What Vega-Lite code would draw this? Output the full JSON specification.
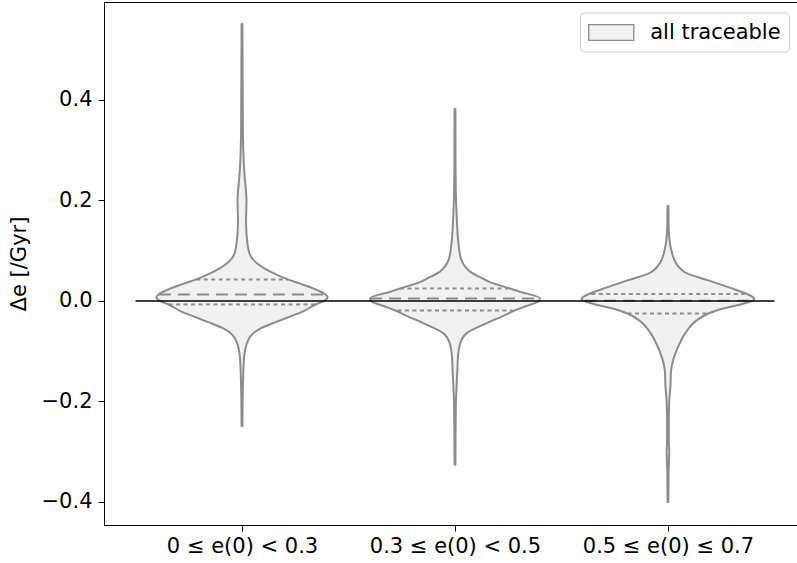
{
  "$schema": "https://vega.github.io/schema/vega-lite/v6.json",
  "autosize": {"type": "none"},
  "padding": {"left": 104, "top": 2, "right": 0, "bottom": 38},
  "width": 693,
  "height": 523,
  "config": {
    "font": "DejaVu Sans",
    "view": {"stroke": "#000000", "strokeWidth": 1},
    "axis": {"grid": false, "domainColor": "#000000", "tickColor": "#000000", "labelColor": "#000000", "titleColor": "#000000", "labelFont": "DejaVu Sans", "titleFont": "DejaVu Sans", "labelFontSize": 21, "titleFontSize": 21, "titleFontWeight": "normal", "tickSize": 6, "labelPadding": 6}
  },
  "datasets": {
    "violin": [
      {"g": 0, "y": -0.249, "w": 0.002}, {"g": 0, "y": -0.20, "w": 0.003}, {"g": 0, "y": -0.157, "w": 0.005}, {"g": 0, "y": -0.131, "w": 0.007}, {"g": 0, "y": -0.104, "w": 0.012}, {"g": 0, "y": -0.084, "w": 0.023}, {"g": 0, "y": -0.074, "w": 0.034}, {"g": 0, "y": -0.064, "w": 0.053}, {"g": 0, "y": -0.054, "w": 0.09}, {"g": 0, "y": -0.041, "w": 0.165}, {"g": 0, "y": -0.031, "w": 0.225}, {"g": 0, "y": -0.021, "w": 0.285}, {"g": 0, "y": -0.007, "w": 0.345}, {"g": 0, "y": 0.0, "w": 0.385}, {"g": 0, "y": 0.008, "w": 0.402}, {"g": 0, "y": 0.013, "w": 0.392}, {"g": 0, "y": 0.025, "w": 0.335}, {"g": 0, "y": 0.035, "w": 0.27}, {"g": 0, "y": 0.043, "w": 0.215}, {"g": 0, "y": 0.055, "w": 0.15}, {"g": 0, "y": 0.065, "w": 0.105}, {"g": 0, "y": 0.075, "w": 0.07}, {"g": 0, "y": 0.085, "w": 0.047}, {"g": 0, "y": 0.095, "w": 0.035}, {"g": 0, "y": 0.108, "w": 0.028}, {"g": 0, "y": 0.135, "w": 0.021}, {"g": 0, "y": 0.160, "w": 0.019}, {"g": 0, "y": 0.180, "w": 0.020}, {"g": 0, "y": 0.200, "w": 0.021}, {"g": 0, "y": 0.222, "w": 0.018}, {"g": 0, "y": 0.245, "w": 0.013}, {"g": 0, "y": 0.27, "w": 0.009}, {"g": 0, "y": 0.30, "w": 0.006}, {"g": 0, "y": 0.35, "w": 0.004}, {"g": 0, "y": 0.45, "w": 0.003}, {"g": 0, "y": 0.551, "w": 0.002},
      {"g": 1, "y": -0.326, "w": 0.002}, {"g": 1, "y": -0.26, "w": 0.003}, {"g": 1, "y": -0.208, "w": 0.004}, {"g": 1, "y": -0.175, "w": 0.007}, {"g": 1, "y": -0.157, "w": 0.009}, {"g": 1, "y": -0.141, "w": 0.011}, {"g": 1, "y": -0.111, "w": 0.014}, {"g": 1, "y": -0.084, "w": 0.025}, {"g": 1, "y": -0.064, "w": 0.055}, {"g": 1, "y": -0.044, "w": 0.149}, {"g": 1, "y": -0.030, "w": 0.225}, {"g": 1, "y": -0.019, "w": 0.28}, {"g": 1, "y": -0.010, "w": 0.335}, {"g": 1, "y": -0.001, "w": 0.391}, {"g": 1, "y": 0.005, "w": 0.399}, {"g": 1, "y": 0.0185, "w": 0.305}, {"g": 1, "y": 0.025, "w": 0.258}, {"g": 1, "y": 0.035, "w": 0.18}, {"g": 1, "y": 0.047, "w": 0.12}, {"g": 1, "y": 0.058, "w": 0.072}, {"g": 1, "y": 0.070, "w": 0.045}, {"g": 1, "y": 0.082, "w": 0.030}, {"g": 1, "y": 0.108, "w": 0.018}, {"g": 1, "y": 0.130, "w": 0.013}, {"g": 1, "y": 0.161, "w": 0.009}, {"g": 1, "y": 0.201, "w": 0.005}, {"g": 1, "y": 0.25, "w": 0.003}, {"g": 1, "y": 0.30, "w": 0.0025}, {"g": 1, "y": 0.382, "w": 0.002},
      {"g": 2, "y": -0.400, "w": 0.002}, {"g": 2, "y": -0.343, "w": 0.003}, {"g": 2, "y": -0.30, "w": 0.006}, {"g": 2, "y": -0.276, "w": 0.004}, {"g": 2, "y": -0.242, "w": 0.004}, {"g": 2, "y": -0.200, "w": 0.006}, {"g": 2, "y": -0.168, "w": 0.012}, {"g": 2, "y": -0.141, "w": 0.014}, {"g": 2, "y": -0.114, "w": 0.027}, {"g": 2, "y": -0.087, "w": 0.052}, {"g": 2, "y": -0.060, "w": 0.088}, {"g": 2, "y": -0.040, "w": 0.13}, {"g": 2, "y": -0.025, "w": 0.19}, {"g": 2, "y": -0.0166, "w": 0.246}, {"g": 2, "y": -0.0065, "w": 0.345}, {"g": 2, "y": 0.0036, "w": 0.406}, {"g": 2, "y": 0.0137, "w": 0.373}, {"g": 2, "y": 0.027, "w": 0.286}, {"g": 2, "y": 0.041, "w": 0.19}, {"g": 2, "y": 0.054, "w": 0.095}, {"g": 2, "y": 0.074, "w": 0.040}, {"g": 2, "y": 0.101, "w": 0.016}, {"g": 2, "y": 0.14, "w": 0.004}, {"g": 2, "y": 0.189, "w": 0.002}
    ],
    "quart": [
      {"g": 0, "y": 0.043, "w": 0.215}, {"g": 0, "y": -0.007, "w": 0.345},
      {"g": 1, "y": 0.025, "w": 0.258}, {"g": 1, "y": -0.019, "w": 0.27},
      {"g": 2, "y": 0.0137, "w": 0.36}, {"g": 2, "y": -0.025, "w": 0.19}
    ],
    "median": [
      {"g": 0, "y": 0.013, "w": 0.39},
      {"g": 1, "y": 0.005, "w": 0.399},
      {"g": 2, "y": 0.0005, "w": 0.39}
    ],
    "zero": [{"y": 0, "x0": -0.5, "x1": 2.5}]
  },
  "layer": [
    {
      "data": {"name": "violin"},
      "transform": [
        {"calculate": "datum.g - datum.w", "as": "lo"},
        {"calculate": "datum.g + datum.w", "as": "hi"}
      ],
      "mark": {"type": "area", "orient": "horizontal", "stroke": "#8c8c8c", "strokeWidth": 2, "interpolate": "monotone", "strokeJoin": "round"},
      "encoding": {
        "y": {"field": "y", "type": "quantitative", "scale": {"domain": [-0.4458, 0.595], "nice": false, "zero": false},
          "axis": {"values": [-0.4, -0.2, 0, 0.2, 0.4], "format": ".1f", "title": "Δe [/Gyr]", "titlePadding": 12}},
        "x": {"field": "lo", "type": "quantitative", "scale": {"domain": [-0.648, 2.606], "nice": false, "zero": false},
          "axis": {"values": [0, 1, 2], "title": null, "labelPadding": 4,
            "labelExpr": "datum.value == 0 ? '0 ≤ e(0) < 0.3' : datum.value == 1 ? '0.3 ≤ e(0) < 0.5' : '0.5 ≤ e(0) ≤ 0.7'"}},
        "x2": {"field": "hi"},
        "detail": {"field": "g"},
        "color": {"datum": "all traceable", "type": "nominal",
          "scale": {"range": ["#f1f1f1"]},
          "legend": {"title": null, "orient": "none", "legendX": 476, "legendY": 10.5, "padding": 8,
            "strokeColor": "#cccccc", "fillColor": "#ffffff", "cornerRadius": 4,
            "symbolType": "M-2,-0.7L2,-0.7L2,0.7L-2,0.7Z", "symbolSize": 506, "symbolOffset": 11.25,
            "symbolStrokeColor": "#8c8c8c", "symbolStrokeWidth": 1.3, "symbolFillColor": "#f1f1f1",
            "labelFontSize": 21, "labelFont": "DejaVu Sans", "labelColor": "#000000", "labelOffset": 27}}
      }
    },
    {
      "data": {"name": "quart"},
      "transform": [
        {"calculate": "datum.g - datum.w", "as": "lo"},
        {"calculate": "datum.g + datum.w", "as": "hi"}
      ],
      "mark": {"type": "rule", "color": "#8c8c8c", "strokeWidth": 2, "strokeDash": [4, 3.5]},
      "encoding": {
        "y": {"field": "y", "type": "quantitative"},
        "x": {"field": "lo", "type": "quantitative"},
        "x2": {"field": "hi"}
      }
    },
    {
      "data": {"name": "median"},
      "transform": [
        {"calculate": "datum.g - datum.w", "as": "lo"},
        {"calculate": "datum.g + datum.w", "as": "hi"}
      ],
      "mark": {"type": "rule", "color": "#8c8c8c", "strokeWidth": 2, "strokeDash": [12, 7]},
      "encoding": {
        "y": {"field": "y", "type": "quantitative"},
        "x": {"field": "lo", "type": "quantitative"},
        "x2": {"field": "hi"}
      }
    },
    {
      "data": {"name": "zero"},
      "mark": {"type": "rule", "color": "#000000", "strokeWidth": 1.3},
      "encoding": {
        "y": {"field": "y", "type": "quantitative"},
        "x": {"field": "x0", "type": "quantitative"},
        "x2": {"field": "x1"}
      }
    }
  ]
}
